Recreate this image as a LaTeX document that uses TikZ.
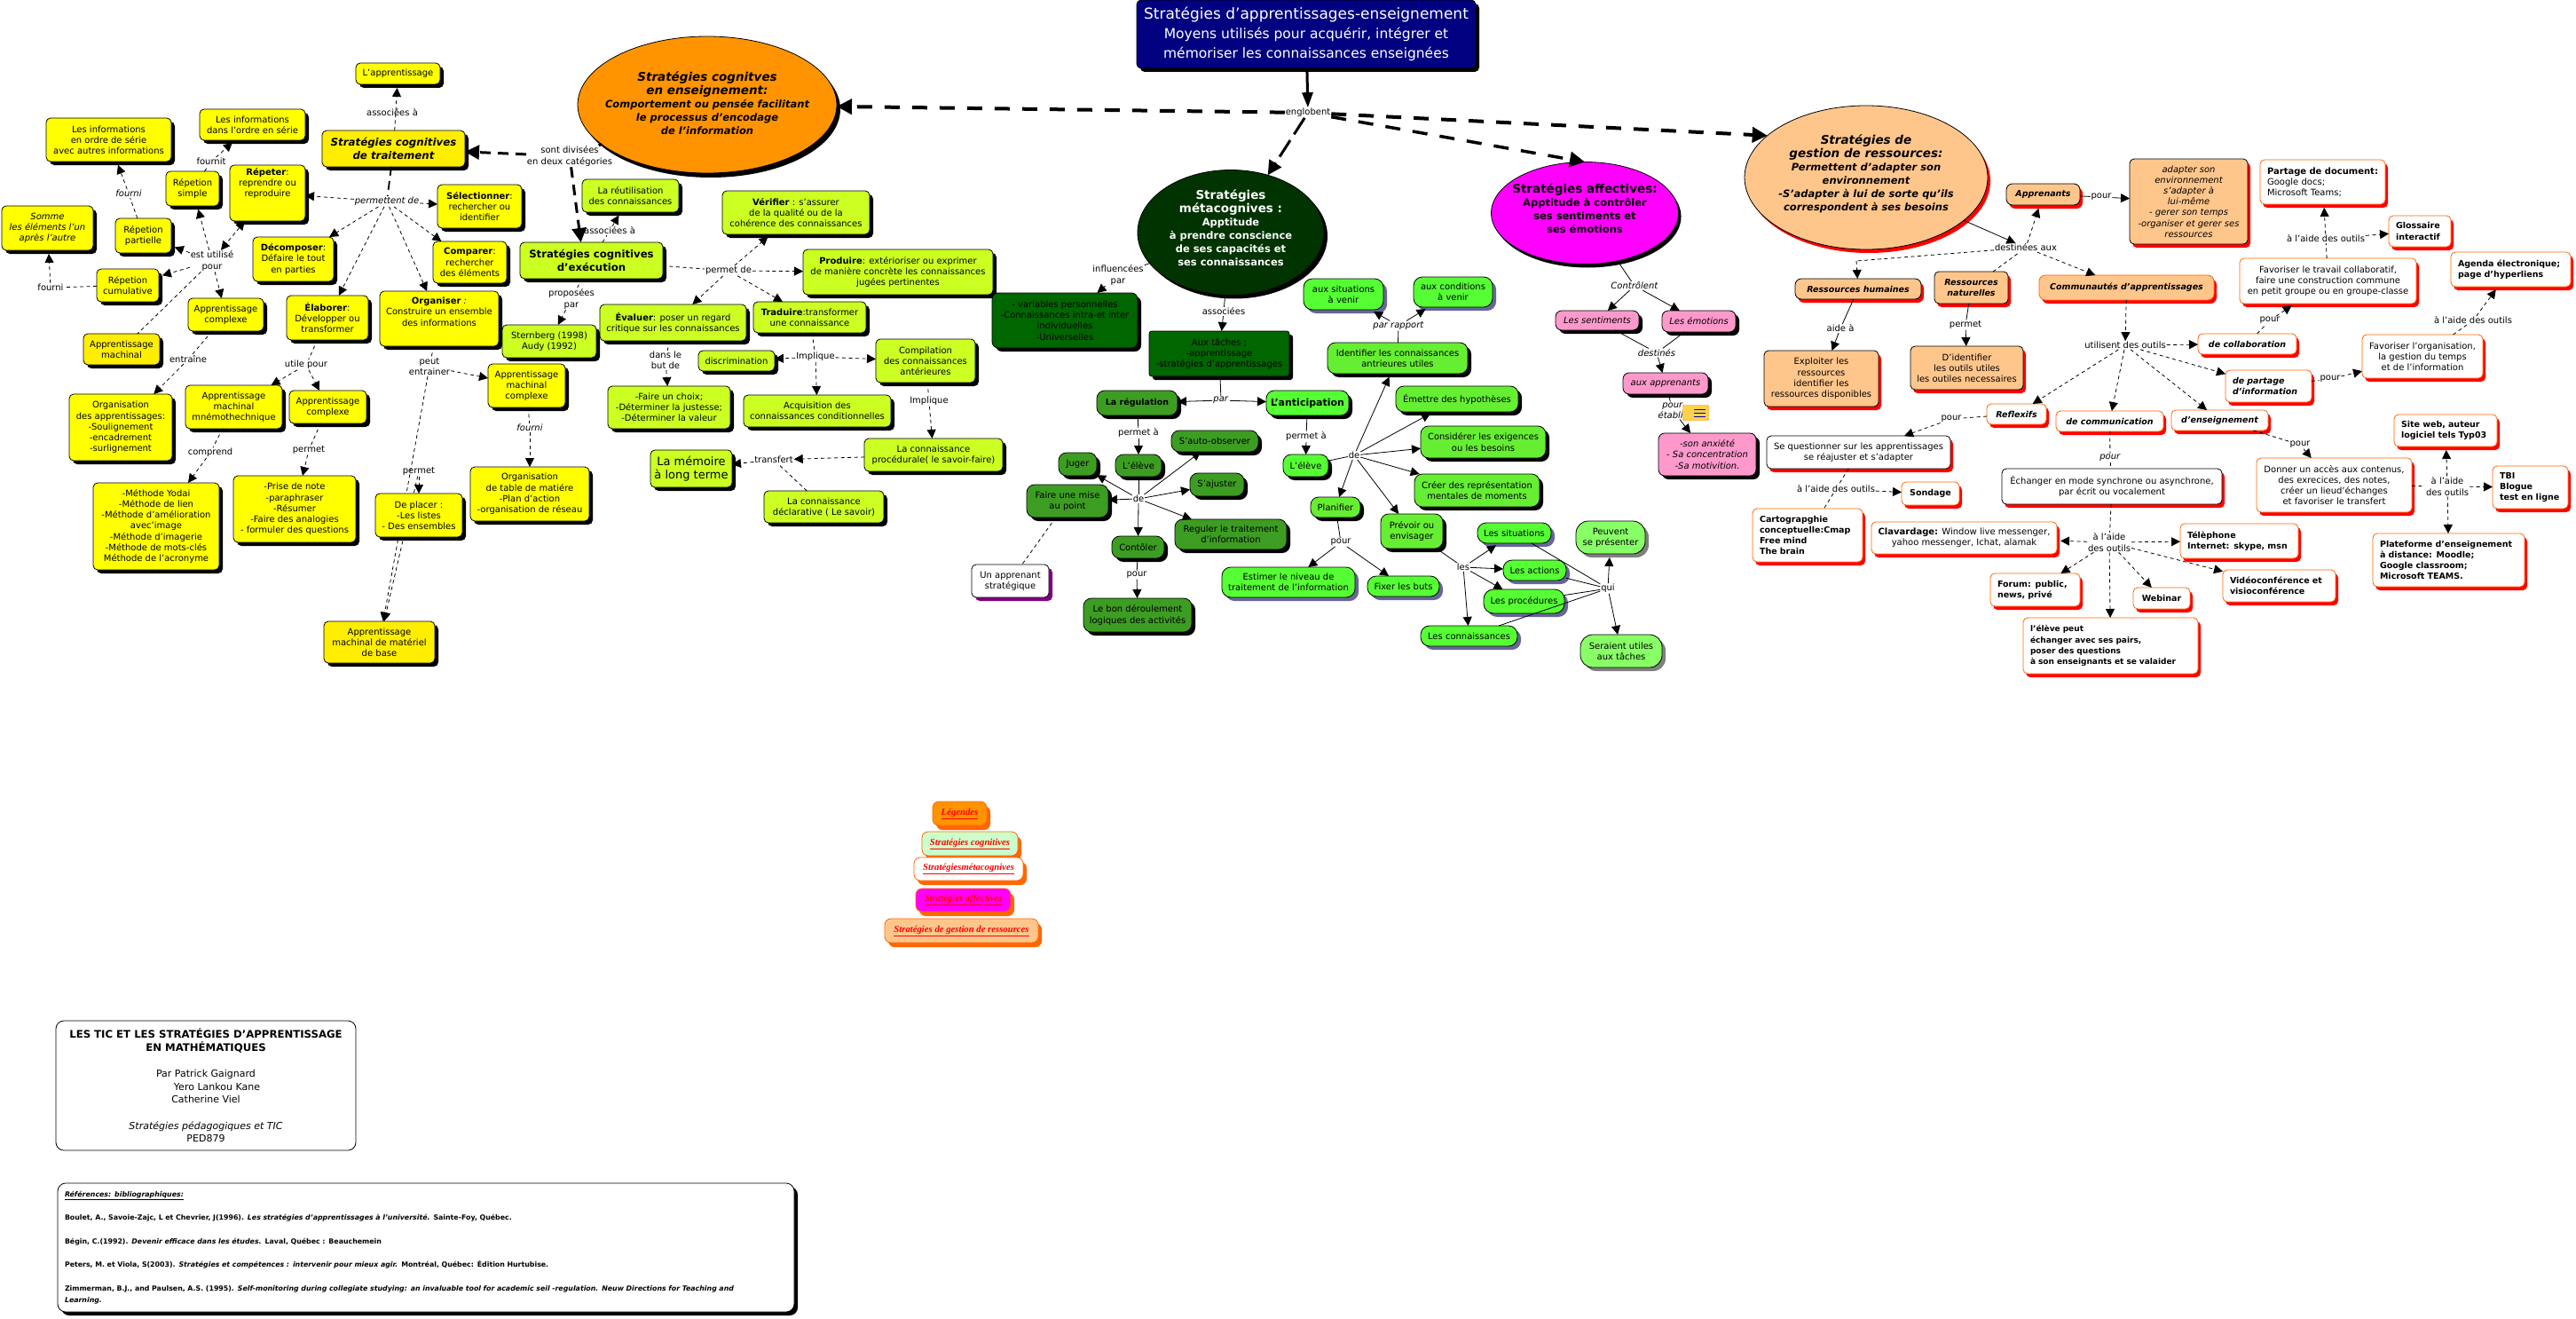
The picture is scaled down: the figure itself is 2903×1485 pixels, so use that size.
\documentclass[tikz,border=0pt]{standalone}
\usepackage{fontspec}
\setmainfont{DejaVu Sans}
\newfontfamily\lgdfont{Liberation Serif}
\usetikzlibrary{arrows.meta,shapes.geometric,shadows,backgrounds}
\definecolor{cyel}{HTML}{FFFF00}
\definecolor{cgold}{HTML}{FFEE00}
\definecolor{clim}{HTML}{CCFF22}
\definecolor{cdrk}{HTML}{006600}
\definecolor{cmid}{HTML}{3D9D22}
\definecolor{cgrn}{HTML}{66EE33}
\definecolor{cbri}{HTML}{55FF33}
\definecolor{cpal}{HTML}{88FF66}
\definecolor{cslt}{HTML}{666699}
\definecolor{cpnk}{HTML}{FF99CC}
\definecolor{cpch}{HTML}{FFC68C}
\definecolor{cora}{HTML}{FF6600}
\definecolor{corg}{HTML}{FF9400}
\definecolor{cnav}{HTML}{000080}
\definecolor{cmet}{HTML}{003300}
\definecolor{cmag}{HTML}{FF00FF}
\definecolor{cprp}{HTML}{800080}
\definecolor{cmnt}{HTML}{CCFFCC}
\newcommand\txtf{\fontsize{10}{12.2}\selectfont}
\newcommand\labf{\fontsize{10}{12.4}\selectfont}
\newcommand\bldf{\fontsize{9.5}{12.2}\selectfont\bfseries}
\tikzset{
  box/.style={rectangle,rounded corners=5pt,draw=black,line width=.8pt,align=center,inner sep=0pt,outer sep=0pt,font=\txtf},
  blksh/.style={general shadow={fill=black,shadow xshift=4pt,shadow yshift=-4pt}},
  redsh/.style={general shadow={fill=red,shadow xshift=3pt,shadow yshift=-4pt}},
  blush/.style={general shadow={fill=cslt,shadow xshift=4pt,shadow yshift=-4pt}},
  yel/.style={box,blksh,fill=cyel},
  gold/.style={box,blksh,fill=cgold},
  lim/.style={box,blksh,fill=clim},
  drk/.style={box,blksh,fill=cdrk},
  mid/.style={box,blksh,fill=cmid,rounded corners=9pt},
  grn/.style={box,blksh,fill=cgrn,rounded corners=9pt},
  bri/.style={box,blush,fill=cbri,rounded corners=10pt},
  pal/.style={box,general shadow={fill=gray,shadow xshift=4pt,shadow yshift=-4pt},fill=cpal,rounded corners=14pt},
  pnk/.style={box,blksh,fill=cpnk,rounded corners=7pt},
  pch/.style={box,redsh,fill=cpch},
  whr/.style={box,redsh,fill=white,draw=cora},
  whk/.style={box,redsh,fill=white},
  ell/.style={ellipse,draw=black,line width=.8pt,inner sep=0pt,outer sep=0pt},
  lgd/.style={box,draw=cora,general shadow={fill=cora,shadow xshift=4pt,shadow yshift=-5pt},rounded corners=7pt,text=red,font=\lgdfont\fontsize{10.7}{12}\selectfont\bfseries\itshape},
  lab/.style={inner sep=1pt,outer sep=0pt,align=center,font=\labf},
  tip/.style={-{Triangle[length=10pt,width=10pt]}},
  duo/.style={{Triangle[length=10pt,width=10pt]}-{Triangle[length=10pt,width=10pt]}},
  dsh/.style={line width=.8pt,dash pattern=on 4pt off 3.5pt},
  sld/.style={line width=.8pt},
  bak/.style={shorten >=4pt},
  hvy/.style={line width=4pt,dash pattern=on 17pt off 14pt,-{Triangle[length=17pt,width=17pt]}},
  mdm/.style={line width=3pt,dash pattern=on 12pt off 8pt,-{Triangle[length=16pt,width=16pt]}},
}
\newcommand\bx[7]{\node[#2,minimum width={(#5-#3)*1pt},minimum height={(#6-#4)*1pt}] (#1) at ({(#3+#5)/2},{(#4+#6)/2}) {#7};}
\newcommand\bxl[7]{\node[#2,align=left,text width={(#5-#3-16)*1pt},minimum width={(#5-#3)*1pt},minimum height={(#6-#4)*1pt}] (#1) at ({(#3+#5)/2},{(#4+#6)/2}) {#7};}
\newcommand\lbl[4]{\node[lab] (#1) at (#2,#3) {#4};}
\newcommand\cDA[2]{\draw[dsh,tip] (#1) -- (#2);}
\newcommand\cDB[2]{\draw[dsh,tip,bak] (#1) -- (#2);}
\newcommand\cDN[2]{\draw[dsh] (#1) -- (#2);}
\newcommand\cSA[2]{\draw[sld,tip] (#1) -- (#2);}
\newcommand\cSB[2]{\draw[sld,tip,bak] (#1) -- (#2);}
\newcommand\cSN[2]{\draw[sld] (#1) -- (#2);}
\newcommand\elltxt[2][0pt]{\makebox[0pt][c]{\smash{\raisebox{#1}{\begin{tabular}{@{}c@{}}#2\end{tabular}}}}}
\newcommand\szA{\fontsize{13.5}{15}\selectfont}
\newcommand\szB{\fontsize{11.5}{15}\selectfont}
\begin{document}
\begin{tikzpicture}[x=1pt,y=-1pt]
\path[use as bounding box] (0,0) rectangle (2903,1485);
% ellipses and head
\bx{top}{box,blksh,fill=cnav,text=white,font=\fontsize{15.5}{22}\selectfont}{1281}{0}{1663}{77}{{\fontsize{17}{22}\selectfont Stratégies d'apprentissages-enseignement}\\Moyens utilisés pour acquérir, intégrer et\\mémoriser les connaissances enseignées}
\node[ell,general shadow={fill=black,shadow xshift=4pt,shadow yshift=-5pt},fill=corg,minimum width=292pt,minimum height=154pt,font=\szB\bfseries\itshape] (eco) at (797,118) {\elltxt[-3pt]{\szA Stratégies cognitves\\\szA en enseignement:\\Comportement ou pensée facilitant\\le processus d'encodage\\de l'information}};
\node[ell,general shadow={fill=black,shadow xshift=4pt,shadow yshift=-4pt},fill=cmet,text=white,minimum width=210pt,minimum height=141pt,font=\szB\bfseries] (eme) at (1387,262) {\elltxt{\szA Stratégies\\\szA métacognives :\\Apptitude\\à prendre conscience\\de ses capacités et\\ses connaissances}};
\node[ell,general shadow={fill=black,shadow xshift=3pt,shadow yshift=-4pt},fill=cmag,minimum width=211pt,minimum height=115pt,font=\szB\bfseries] (eaf) at (1786,240) {\elltxt{\szA Stratégies affectives:\\Apptitude à contrôler\\ses sentiments et\\ses émotions}};
\node[ell,general shadow={fill=red,shadow xshift=3pt,shadow yshift=-4pt},fill=cpch,minimum width=274pt,minimum height=162pt,font=\szB\bfseries\itshape] (ege) at (2103,200) {\elltxt{\szA Stratégies de\\\szA gestion de ressources:\\Permettent d'adapter son\\environnement\\-S'adapter à lui de sorte qu'ils\\correspondent à ses besoins}};
% yellow
\bx{app}{yel}{401}{71}{496}{95}{L'apprentissage}
\bx{st1}{gold,font=\fontsize{11.8}{15}\selectfont\bfseries\itshape}{363}{147}{524}{188}{Stratégies cognitives\\de traitement}
\bx{inA}{yel}{52}{133}{193}{182}{Les informations\\en ordre de série\\avec autres informations}
\bx{inB}{yel}{225}{123}{344}{158}{Les informations\\dans l'ordre en série}
\bx{rs}{yel}{187}{193}{247}{232}{Répetion\\simple}
\node[yel,anchor=north,minimum width=85pt,minimum height=63pt,text depth=24pt] (rep) at (301.5,186) {\textbf{Répeter}:\\reprendre ou\\reproduire};
\bx{sel}{yel}{493}{208}{588}{257}{\textbf{Sélectionner}:\\rechercher ou\\identifier}
\bx{som}{yel}{2}{232}{105}{282}{\textit{Somme}\\\textit{les éléments l'un}\\\textit{après l'autre}}
\bx{rp}{yel}{130}{246}{193}{285}{Répetion\\partielle}
\bx{dec}{yel}{285}{267}{376}{317}{\textbf{Décomposer}:\\Défaire le tout\\en parties}
\bx{cmp}{yel}{488}{272}{571}{319}{\textbf{Comparer}:\\rechercher\\des éléments}
\bx{rc}{yel}{109}{303}{179}{340}{Répetion\\cumulative}
\bx{ac1}{yel}{212}{336}{297}{373}{Apprentissage\\complexe}
\bx{ela}{yel}{323}{333}{415}{383}{\textbf{Élaborer}:\\Développer ou\\transformer}
\node[yel,anchor=north,minimum width=134pt,minimum height=62pt,text depth=16pt] (org) at (495,328) {\textbf{Organiser} \textit{:}\\Construire un ensemble\\des informations};
\bx{am}{gold}{94}{376}{180}{411}{Apprentissage\\machinal}
\bx{oap}{yel}{78}{444}{194}{519}{Organisation\\des apprentissages:\\-Soulignement\\-encadrement\\-surlignement}
\bx{mne}{yel}{209}{434}{318}{483}{Apprentissage\\machinal\\mnémothechnique}
\bx{ac2}{yel}{326}{440}{413}{477}{Apprentissage\\complexe}
\bx{amc}{yel}{550}{410}{637}{459}{Apprentissage\\machinal\\complexe}
\bx{yod}{yel}{105}{544}{247}{642}{-Méthode Yodai\\-Méthode de lien\\-Méthode d'amélioration\\avec'image\\-Méthode d'imagerie\\-Méthode de mots-clés\\Méthode de l'acronyme}
\bx{pri}{yel}{263}{536}{401}{611}{-Prise de note\\-paraphraser\\-Résumer\\-Faire des analogies\\- formuler des questions}
\bx{pla}{yel}{423}{556}{521}{605}{De placer :\\-Les listes\\- Des ensembles}
\bx{otm}{yel}{530}{526}{664}{587}{Organisation\\de table de matiére\\-Plan d'action\\-organisation de réseau}
\bx{bas}{gold}{365}{700}{490}{747}{Apprentissage\\machinal de matériel\\de base}
% lime
\bx{reu}{lim}{656}{202}{765}{239}{La réutilisation\\des connaissances}
\bx{ver}{lim}{814}{215}{980}{264}{\textbf{Vérifier} : s'assurer\\de la qualité ou de la\\cohérence des connaissances}
\bx{st2}{lim,font=\fontsize{11.7}{15}\selectfont\bfseries}{586}{273}{747}{314}{Stratégies cognitives\\d'exécution}
\bx{pro}{lim}{905}{281}{1119}{332}{\textbf{Produire}: extérioriser ou exprimer\\de manière concrète les connaissances\\jugées pertinentes}
\bx{tra}{lim}{849}{340}{976}{375}{\textbf{Traduire}:transformer\\une connaissance}
\bx{eva}{lim}{676}{343}{841}{384}{\textbf{Évaluer}: poser un regard\\critique sur les connaissances}
\bx{ste}{lim}{566}{366}{672}{403}{Sternberg (1998)\\Audy (1992)}
\bx{dis}{lim}{787}{395}{873}{418}{discrimination}
\bx{cpl}{lim}{987}{382}{1099}{431}{Compilation\\des connaissances\\antérieures}
\bx{fai}{lim}{685}{435}{823}{483}{-Faire un choix;\\-Déterminer la justesse;\\-Déterminer la valeur}
\bx{acq}{lim}{838}{445}{1004}{481}{Acquisition des\\connaissances conditionnelles}
\bx{cpr}{lim}{974}{494}{1130}{531}{La connaissance\\procédurale( le savoir-faire)}
\bx{mlt}{lim,font=\fontsize{13}{15.2}\selectfont}{733}{507}{825}{549}{La mémoire\\à long terme}
\bx{cde}{lim}{861}{553}{996}{589}{La connaissance\\déclarative ( Le savoir)}
% greens
\bx{var}{drk,rounded corners=7pt}{1118}{330}{1282}{392}{- variables personnelles\\-Connaissances intra-et inter\\individuelles\\-Universelles}
\bx{tac}{drk,rounded corners=3pt}{1295}{373}{1453}{424}{Aux tâches ;\\-apprentissage\\-stratégies d'apprentissages}
\bx{reg}{mid,font=\bldf}{1236}{440}{1327}{468}{La régulation}
\bx{ant}{grn,fill=cbri,font=\fontsize{11}{13}\selectfont\bfseries}{1427}{440}{1520}{468}{L'anticipation}
\bx{sit}{bri}{1469}{314}{1559}{349}{aux situations\\à venir}
\bx{cnd}{bri}{1593}{312}{1682}{346}{aux conditions\\à venir}
\bx{ide}{grn}{1496}{386}{1654}{421}{Identifier les connaissances\\antrieures utiles}
\bx{eme2}{grn}{1573}{435}{1711}{464}{Émettre des hypothèses}
\bx{con}{grn}{1601}{480}{1742}{516}{Considérer les exigences\\ou les besoins}
\bx{cre}{grn}{1594}{534}{1735}{571}{Créer des représentation\\mentales de moments}
\bx{obs}{mid}{1320}{485}{1418}{509}{S'auto-observer}
\bx{el1}{mid}{1257}{512}{1309}{537}{L'élève}
\bx{jug}{mid}{1193}{510}{1236}{536}{Juger}
\bx{ajt}{mid}{1341}{533}{1402}{559}{S'ajuster}
\bx{mis}{mid}{1157}{546}{1249}{583}{Faire une mise\\au point}
\bx{rtr}{mid}{1324}{585}{1450}{619}{Reguler le traitement\\d'information}
\bx{ctl}{mid}{1253}{604}{1312}{629}{Contôler}
\bx{uap}{box,general shadow={fill=cprp,shadow xshift=4pt,shadow yshift=-4pt},fill=white}{1095}{636}{1182}{673}{Un apprenant\\stratégique}
\bx{bon}{mid}{1221}{674}{1343}{712}{Le bon déroulement\\logiques des activités}
\bx{el2}{grn,fill=cbri}{1446}{512}{1497}{537}{L'élève}
\bx{pln}{grn}{1477}{560}{1533}{583}{Planifier}
\bx{prv}{grn}{1556}{579}{1626}{618}{Prévoir ou\\envisager}
\bx{est}{bri}{1377}{639}{1527}{673}{Estimer le niveau de\\traitement de l'information}
\bx{fix}{bri}{1541}{649}{1622}{672}{Fixer les buts}
\bx{lsi}{bri}{1665}{589}{1748}{612}{Les situations}
\bx{pvt}{pal}{1776}{587}{1854}{624}{Peuvent\\se présenter}
\bx{lac}{bri}{1694}{631}{1765}{654}{Les actions}
\bx{lpr}{bri,rounded corners=11pt}{1672}{664}{1763}{691}{Les procédures}
\bx{lco}{bri}{1601}{705}{1710}{728}{Les connaissances}
\bx{ser}{pal}{1781}{715}{1873}{752}{Seraient utiles\\aux tâches}
% pink
\bx{sen}{pnk,font=\txtf\itshape}{1753}{350}{1847}{372}{Les sentiments}
\bx{emo}{pnk,font=\txtf\itshape}{1873}{350}{1956}{374}{Les émotions}
\bx{apr}{pnk,font=\txtf\itshape}{1829}{420}{1925}{444}{aux apprenants}
\bx{anx}{pnk,font=\txtf\itshape}{1869}{488}{1979}{536}{-son anxiété\\- Sa concentration\\-Sa motivition.}
% peach
\bx{apn}{pch,rounded corners=7pt,font=\bldf\itshape,fill=cpch}{2261}{207}{2344}{231}{Apprenants}
\bx{ada}{pch,font=\txtf\itshape}{2400}{179}{2533}{275}{adapter son\\environnement\\s'adapter à\\lui-même\\- gerer son temps\\-organiser et gerer ses\\ressources}
\bx{rhu}{pch,rounded corners=7pt,font=\bldf\itshape}{2023}{314}{2165}{337}{Ressources humaines}
\bx{rna}{pch,font=\bldf\itshape}{2180}{306}{2263}{342}{Ressources\\naturelles}
\bx{com}{pch,draw=cora,rounded corners=7pt,font=\bldf\itshape}{2298}{310}{2495}{338}{Communautés d'apprentissages}
\bx{exp}{pch}{1988}{395}{2117}{458}{Exploiter les\\ressources\\identifier les\\ressources disponibles}
\bx{did}{pch}{2153}{390}{2280}{439}{D'identifier\\les outils utiles\\les outiles necessaires}
% white
\bxl{par}{whr}{2547}{180}{2688}{230}{\textbf{Partage de document:}\\Google docs;\\Microsoft Teams;}
\bxl{glo}{whr,font=\bldf}{2692}{243}{2762}{278}{Glossaire\\interactif}
\bxl{age}{whr,font=\bldf}{2762}{284}{2897}{323}{Agenda électronique;\\page d'hyperliens}
\bx{fvt}{whr}{2524}{291}{2723}{342}{Favoriser le travail collaboratif,\\faire une construction commune\\en petit groupe ou en groupe-classe}
\bx{cbl}{whr,font=\bldf\itshape}{2477}{376}{2588}{399}{de collaboration}
\bx{fvo}{whr}{2662}{377}{2798}{426}{Favoriser l'organisation,\\la gestion du temps\\et de l'information}
\bxl{pts}{whr,font=\bldf\itshape}{2508}{417}{2605}{453}{de partage\\d'information}
\bx{rfl}{whr,font=\bldf\itshape}{2239}{455}{2306}{478}{Reflexifs}
\bx{cmn}{whr,font=\bldf\itshape}{2317}{463}{2438}{486}{de communication}
\bx{ens}{whr,font=\bldf\itshape}{2447}{462}{2556}{485}{d'enseignement}
\bxl{sit2}{whr,font=\bldf}{2698}{467}{2814}{503}{Site web, auteur\\logiciel tels Typ03}
\bxl{tbi}{whr,font=\bldf}{2809}{525}{2894}{573}{TBI\\Blogue\\test en ligne}
\bx{don}{whr}{2543}{516}{2718}{577}{Donner un accès aux contenus,\\des exrecices, des notes,\\créer un lieud'échanges\\et favoriser le transfert}
\bx{que}{whk}{1991}{491}{2198}{528}{Se questionner sur les apprentissages\\se réajuster et s'adapter}
\bx{ech}{whk}{2256}{528}{2504}{568}{Échanger en mode synchrone ou asynchrone,\\par écrit ou vocalement}
\bx{son}{whr,font=\bldf}{2143}{543}{2208}{569}{Sondage}
\bxl{car}{whr,font=\bldf}{1975}{573}{2099}{633}{Cartograpghie\\conceptuelle:Cmap\\Free mind\\The brain}
\bx{cla}{whr}{2109}{588}{2318}{624}{\textbf{Clavardage:} Window live messenger,\\yahoo messenger, Ichat, alamak}
\bxl{tel}{whr,font=\bldf}{2457}{590}{2590}{629}{Télèphone\\Internet: skype, msn}
\bxl{for}{whr,font=\bldf}{2243}{646}{2344}{683}{Forum: public,\\news, privé}
\bx{web}{whr,font=\bldf}{2404}{662}{2468}{686}{Webinar}
\bxl{vid}{whr,font=\bldf}{2505}{642}{2632}{678}{Vidéoconférence et\\visioconférence}
\bxl{elp}{whr,font=\fontsize{9}{12.2}\selectfont\bfseries}{2280}{696}{2477}{759}{l'élève peut\\échanger avec ses pairs,\\poser des questions\\à son enseignants et se valaider}
\bxl{plt}{whr,font=\bldf}{2674}{601}{2845}{661}{Plateforme d'enseignement\\à distance: Moodle;\\Google classroom;\\Microsoft TEAMS.}
% legend
\bx{lg0}{lgd,fill=corg}{1051}{903}{1112}{930}{\underline{Légendes}}
\bx{lg1}{lgd,fill=cmnt}{1039}{937}{1147}{964}{\underline{Stratégies cognitives}}
\bx{lg2}{lgd,fill=white}{1030}{966}{1153}{992}{\underline{Stratégiesmétacognives}}
\bx{lg3}{lgd,fill=cmag}{1032}{1001}{1139}{1027}{\underline{Stratégies affectives}}
\bx{lg4}{lgd,fill=cpch}{997}{1035}{1170}{1062}{\underline{Stratégies de gestion de ressources}}
% title and references
\bx{tit}{box,draw=black,font=\fontsize{11}{14.6}\selectfont,rounded corners=9pt}{63}{1150}{401}{1296}{{\fontsize{11.7}{14.6}\selectfont\bfseries LES TIC ET LES STRATÉGIES D'APPRENTISSAGE}\\{\fontsize{11.7}{14.6}\selectfont\bfseries EN MATHÉMATIQUES}\\[14.6pt]Par Patrick Gaignard\\\hspace*{25pt}Yero Lankou Kane\\Catherine Viel\\[14.6pt]\textit{Stratégies pédagogiques et TIC}\\PED879}
\bx{rfn}{box,blksh,fill=white,rounded corners=9pt,align=left,text width=814pt,font=\fontsize{7.85}{13.2}\selectfont\bfseries}{65}{1333}{895}{1478}{\textit{\underline{Références: bibliographiques:}}\\[13.2pt]Boulet, A., Savoie-Zajc, L et Chevrier, J(1996). \textit{Les stratégies d'apprentissages à l'université.} Sainte-Foy, Québec.\\[13.2pt]Bégin, C.(1992). \textit{Devenir efficace dans les études.} Laval, Québec : Beauchemein\\[13.2pt]Peters, M. et Viola, S(2003). \textit{Stratégies et compétences : intervenir pour mieux agir.} Montréal, Québec: Édition Hurtubise.\\[13.2pt]Zimmerman, B.J., and Paulsen, A.S. (1995). \textit{Self-monitoring during collegiate studying: an invaluable tool for academic seil -regulation. Neuw Directions for Teaching and}\\\textit{Learning.}}
% labels
\lbl{lenc}{1474}{127}{englobent}
\lbl{ldiv}{642}{176}{sont divisées\\en deux catégories}
\lbl{las1}{442}{127}{associées à}
\lbl{lper}{436}{227}{\textit{permettent de}}
\lbl{lest}{239}{294}{est utilisé\\pour}
\lbl{lfo1}{238}{182}{fournit}
\lbl{lfo2}{145}{218}{\textit{fourni}}
\lbl{lfo3}{57}{324}{fourni}
\lbl{lent}{212}{405}{entraîne}
\lbl{lut}{345}{411}{utile pour}
\lbl{lpe}{484}{413}{peut\\entrainer}
\lbl{lcp}{237}{510}{comprend}
\lbl{lpm}{348}{507}{permet}
\lbl{lpm2}{472}{531}{permet}
\lbl{lfo4}{597}{482}{\textit{fourni}}
\lbl{las2}{687}{260}{associées à}
\lbl{lpd}{821}{305}{permet de}
\lbl{lprp}{644}{337}{proposées\\par}
\lbl{lbut}{750}{406}{dans le\\but de}
\lbl{lim1}{919}{402}{Implique}
\lbl{lim2}{1047}{452}{Implique}
\lbl{ltr}{872}{518}{transfert}
\lbl{linf}{1260}{310}{influencées\\par}
\lbl{lass}{1379}{351}{associées}
\lbl{lpar}{1376}{451}{\textit{par}}
\lbl{lpa1}{1283}{488}{permet à}
\lbl{lpa2}{1472}{492}{permet à}
\lbl{lrap}{1576}{367}{\textit{par rapport}}
\lbl{lde1}{1283}{562}{de}
\lbl{lde2}{1526}{513}{de}
\lbl{lpo1}{1281}{648}{pour}
\lbl{lpo2}{1511}{611}{pour}
\lbl{lles}{1649}{639}{les}
\lbl{lqui}{1812}{663}{qui}
\lbl{lctr}{1842}{322}{\textit{Contrôlent}}
\lbl{ldst}{1867}{397.5}{\textit{destinés}}
\lbl{leta}{1885}{462.5}{\textit{pour}\\\textit{établir}}
\lbl{ldsa}{2283}{279}{destinées aux}
\lbl{lpap}{2368}{222}{pour}
\lbl{laid}{2074}{370}{aide à}
\lbl{lpmt}{2215}{366}{permet}
\lbl{lout}{2395}{389}{utilisent des outils}
\lbl{lo1}{2621}{269}{à l'aide des outils}
\lbl{lo2}{2787}{361}{à l'aide des outils}
\lbl{lo3}{2069}{551}{à l'aide des outils}
\lbl{lo4}{2377}{611}{à l'aide\\des outils}
\lbl{lo5}{2758}{548}{à l'aide\\des outils}
\lbl{lpcb}{2558}{361}{pour}
\lbl{lppt}{2626}{427}{pour}
\lbl{lprf}{2199}{472}{pour}
\lbl{lpcm}{2378}{516}{\textit{pour}}
\lbl{lpen}{2592}{501}{pour}
% note icon
\node[draw=orange,fill=yellow!55!orange!70,rounded corners=1pt,inner sep=0pt,minimum width=29pt,minimum height=17pt] (note) at (1911,465) {};
\draw[blue!70!black,line width=.7pt] (note.center) ++(-2,-4) -- ++(13,0) ++(-13,4) -- ++(13,0) ++(-13,4) -- ++(13,0);
% connectors behind nodes
\begin{scope}[on background layer]
\fill[white] (0,0) rectangle (2903,1485);
\cDA{lpe}{bas}
\cDA{lpm2}{bas}
\end{scope}
% main
\draw[line width=3pt,-{Triangle[length=17pt,width=12pt]}] (top) -- (lenc);
\draw[hvy] (lenc) -- (eco);
\draw[line width=3pt,dash pattern=on 22pt off 8pt,-{Triangle[length=16pt,width=16pt]}] (lenc) -- (eme);
\draw[hvy,line width=3.5pt] (lenc) -- (eaf.north);
\draw[hvy] (lenc) -- (ege.157);
\draw[mdm,-] (eco) -- (ldiv);
\draw[mdm] (ldiv) -- (st1);
\draw[mdm] (ldiv) -- (st2.120);
% cognitive treatment
\cDB{st1}{app}
\draw[line width=1.8pt,dash pattern=on 10pt off 6pt] (st1) -- (lper);
\cDA{lper}{rep}\cDA{lper}{sel}\cDA{lper}{dec}\cDA{lper}{ela}\cDA{lper}{org}\cDA{lper}{cmp}
\draw[dsh,duo] (rep) -- (lest);
\cDN{lest}{am}
\cDB{lest}{rs}\cDB{lest}{rp}\cDB{lest}{rc}\cDA{lest}{ac1}
\cDN{rs}{lfo1}\cDB{lfo1}{inB}
\cDN{rp}{lfo2}\cDB{lfo2}{inA}
\cDN{rc}{lfo3}\cDB{lfo3}{som}
\cDN{ac1}{lent}\cDA{lent}{oap}
\cDN{ela}{lut}\cDA{lut}{mne}\cDA{lut}{ac2}
\cDN{mne}{lcp}\cDA{lcp}{yod}
\cDN{ac2}{lpm}\cDA{lpm}{pri}
\cDN{org}{lpe}\cDA{lpe}{amc}
\cDA{lpm2}{pla}
\cDN{amc}{lfo4}\cDA{lfo4}{otm}
% execution
\cDN{st2}{las2}\cDB{las2}{reu}
\cDN{st2}{lprp}\cDA{lprp}{ste}
\cDN{st2}{lpd}\cDB{lpd}{ver}\cDA{lpd}{pro}\cDA{lpd}{eva}\cDA{lpd}{tra}
\cDN{eva}{lbut}\cDA{lbut}{fai}
\cDN{tra}{lim1}
\cDA{lim1}{dis}\cDA{lim1}{cpl}\cDA{lim1}{acq}
\cDN{cpl}{lim2}\cDA{lim2}{cpr}
\cDA{cpr}{ltr}\cDA{ltr}{mlt}\cDN{cde}{ltr}
% metacognitive
\cSN{eme}{linf}\cSA{linf}{var}
\cSN{eme}{lass}\cSA{lass}{tac}
\cSN{tac}{lpar}\cSA{lpar}{reg}\cSA{lpar}{ant}
\cSN{reg}{lpa1}\cSA{lpa1}{el1}
\cSN{el1}{lde1}
\cSA{lde1}{jug}\cSA{lde1}{mis}\cSA{lde1}{obs}\cSA{lde1}{ajt}\cSA{lde1}{rtr}\cSA{lde1}{ctl}
\cDN{mis}{uap}
\cSN{ctl}{lpo1}\cSA{lpo1}{bon}
\cSN{ant}{lpa2}\cSA{lpa2}{el2}
\cSN{el2}{lde2}
\cSB{lde2}{ide}\cSB{lde2}{eme2}\cSA{lde2}{con}\cSA{lde2}{cre}\cSA{lde2}{pln}\cSA{lde2}{prv}
\cSN{ide}{lrap}\cSB{lrap}{sit}\cSB{lrap}{cnd}
\cSN{pln}{lpo2}\cSA{lpo2}{est}\cSA{lpo2}{fix}
\cSN{prv}{lles}\cSB{lles}{lsi}\cSA{lles}{lac}\cSA{lles}{lpr}\cSA{lles}{lco}
\cSN{lsi}{lqui}\cSN{lac}{lqui}\cSN{lpr}{lqui}\cSN{lco}{lqui}
\cSB{lqui}{pvt}\cSA{lqui}{ser}
% affective
\cSN{eaf}{lctr}\cSA{lctr}{sen}\cSA{lctr}{emo}
\cSN{sen}{ldst}\cSN{emo}{ldst}\cSA{ldst}{apr}
\cSN{apr}{leta}\cSA{leta}{anx}
% resources
\cSA{ege}{ldsa}
\coordinate (rhk) at (2092,294);
\draw[dsh] (ldsa) -- (rhk);
\cDA{rhk}{rhu}
\cDN{rna}{ldsa}
\cDB{ldsa}{apn}\cDA{ldsa}{com}
\cSN{apn}{lpap}\cSA{lpap}{ada}
\cSN{rhu}{laid}\cSA{laid}{exp}
\cSN{rna}{lpmt}\cSA{lpmt}{did}
\cDA{com}{lout}
\cDA{lout}{cbl}\cDA{lout}{pts}\cDA{lout}{rfl}\cDA{lout}{cmn}\cDA{lout}{ens}
\cDN{fvt}{lo1}\cDB{lo1}{par}\cDA{lo1}{glo}
\cDN{cbl}{lpcb}\cDB{lpcb}{fvt}
\cDN{pts}{lppt}\cDA{lppt}{fvo}
\cDN{fvo}{lo2}\cDB{lo2}{age}
\cDN{rfl}{lprf}\cDA{lprf}{que}
\cDN{que}{lo3}\cDA{lo3}{son}\cDN{lo3}{car}
\cDN{cmn}{lpcm}\cDN{lpcm}{ech}
\cDN{ech}{lo4}
\cDB{lo4}{cla}\cDA{lo4}{tel}\cDA{lo4}{for}\cDA{lo4}{web}\cDA{lo4}{vid}\cDA{lo4}{elp}
\cDN{ens}{lpen}\cDA{lpen}{don}
\cDN{don}{lo5}\cDB{lo5}{sit2}\cDA{lo5}{tbi}\cDA{lo5}{plt}
\end{tikzpicture}
\end{document}
